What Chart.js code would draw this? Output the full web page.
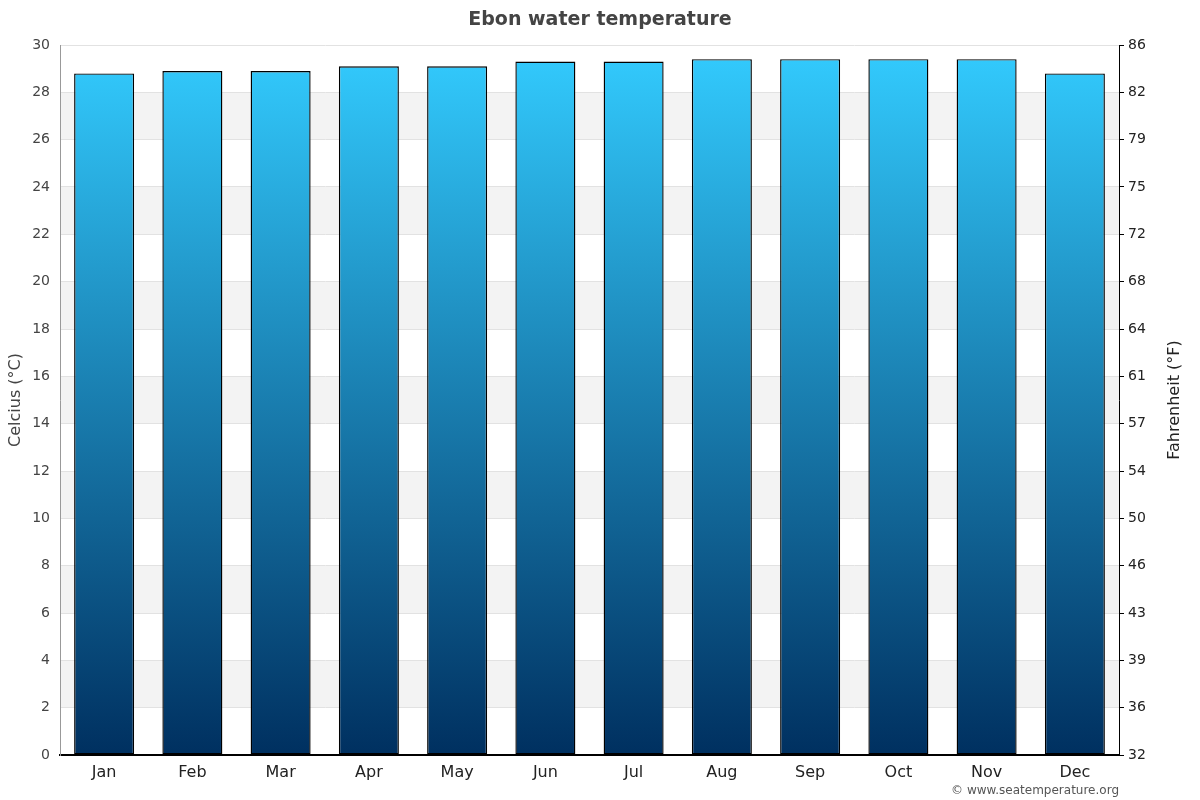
<!DOCTYPE html>
<html>
<head>
<meta charset="utf-8">
<script src="https://cdn.jsdelivr.net/npm/chart.js@4/dist/chart.umd.min.js"></script>
<style>
  html, body { margin: 0; padding: 0; background: #fff; }
  #wrap { position: relative; width: 1200px; height: 800px; }
  #credit { position: absolute; right: 81px; top: 783px; font: 12px "DejaVu Sans", sans-serif; color: #555; }
</style>
</head>
<body>
<div id="wrap">
  <canvas id="c" width="1200" height="800"></canvas>
  <div id="credit">© www.seatemperature.org</div>
</div>
<script>
const months = ['Jan','Feb','Mar','Apr','May','Jun','Jul','Aug','Sep','Oct','Nov','Dec'];
const waterC = [28.8, 28.9, 28.9, 29.1, 29.1, 29.3, 29.3, 29.4, 29.4, 29.4, 29.4, 28.8];
const celsiusTicks = [0,2,4,6,8,10,12,14,16,18,20,22,24,26,28,30];
const fahrenheitTicks = ['32','36','39','43','46','50','54','57','61','64','68','72','75','79','82','86'];
const titleText = 'Ebon water temperature';
const leftTitle = 'Celcius (°C)';
const rightTitle = 'Fahrenheit (°F)';

const FONT = '"DejaVu Sans", Verdana, sans-serif';

const bandsPlugin = {
  id: 'bands',
  beforeDraw(chart) {
    const { ctx, chartArea } = chart;
    const y = chart.scales.y;
    ctx.save();
    ctx.fillStyle = '#f3f3f3';
    for (let v = 2; v < 30; v += 4) {
      const top = y.getPixelForValue(v + 2);
      const bot = y.getPixelForValue(v);
      ctx.fillRect(chartArea.left, top, chartArea.right - chartArea.left, bot - top);
    }
    ctx.restore();
  }
};

const rightTitlePlugin = {
  id: 'rightTitle',
  afterDraw(chart) {
    const { ctx, chartArea } = chart;
    ctx.save();
    ctx.translate(1175, (chartArea.top + chartArea.bottom) / 2);
    ctx.rotate(-Math.PI / 2);
    ctx.font = '16px ' + FONT;
    ctx.fillStyle = '#222';
    ctx.textAlign = 'center';
    ctx.textBaseline = 'middle';
    ctx.fillText(rightTitle, 0, 0);
    ctx.restore();
  }
};

function barGradient(context) {
  const chart = context.chart;
  const area = chart.chartArea;
  if (!area) return '#1a8ac0';
  const g = chart.ctx.createLinearGradient(0, area.bottom, 0, area.top);
  g.addColorStop(0, '#003060');
  g.addColorStop(1, '#33ccff');
  return g;
}

new Chart(document.getElementById('c'), {
  type: 'bar',
  data: {
    labels: months,
    datasets: [{
      data: waterC,
      backgroundColor: barGradient,
      borderColor: '#000',
      borderWidth: 1.4,
      borderSkipped: false,
      categoryPercentage: 1,
      barPercentage: 0.68,
      yAxisID: 'y'
    }]
  },
  options: {
    responsive: false,
    animation: false,
    layout: { padding: 0 },
    plugins: {
      legend: { display: false },
      tooltip: { enabled: false },
      title: {
        display: true,
        text: titleText,
        color: '#444',
        font: { family: FONT, size: 19, weight: 'bold', lineHeight: 1.2 },
        padding: { top: 9, bottom: 13.2 }
      }
    },
    scales: {
      x: {
        grid: { display: false, drawTicks: false },
        border: { display: true, color: '#000', width: 2 },
        ticks: { color: '#222', font: { family: FONT, size: 16 }, padding: 8 },
        afterFit(s) { s.height = 45; }
      },
      y: {
        position: 'left',
        min: 0, max: 30,
        afterBuildTicks(s) { s.ticks = celsiusTicks.map(v => ({ value: v })); },
        grid: { color: '#e2e2e2', drawTicks: false },
        border: { display: true, color: '#999', width: 1 },
        ticks: { color: '#444', font: { family: FONT, size: 14 }, padding: 10 },
        title: { display: true, text: leftTitle, color: '#444', font: { family: FONT, size: 16 }, padding: { top: 6, bottom: 0 } },
        afterFit(s) { s.width = 60; }
      },
      y2: {
        position: 'right',
        min: 0, max: 30,
        afterBuildTicks(s) { s.ticks = celsiusTicks.map(v => ({ value: v })); },
        grid: { drawOnChartArea: false, drawTicks: true, tickLength: 5, tickColor: '#000' },
        border: { display: true, color: '#000', width: 1 },
        ticks: {
          color: '#222', font: { family: FONT, size: 14 }, padding: 4,
          callback: (v, i) => fahrenheitTicks[i]
        },
        afterFit(s) { s.width = 81; }
      }
    }
  },
  plugins: [bandsPlugin, rightTitlePlugin]
});
</script>
</body>
</html>
